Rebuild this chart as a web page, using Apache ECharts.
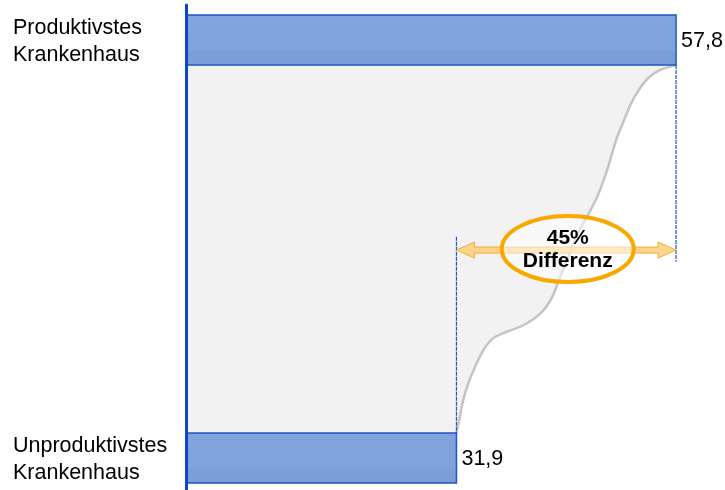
<!DOCTYPE html>
<html>
<head>
<meta charset="utf-8">
<script src="https://cdn.jsdelivr.net/npm/echarts@6/dist/echarts.min.js"></script>
<style>html,body{margin:0;padding:0;background:#fff;}#c{width:725px;height:490px;}</style>
</head>
<body>
<div id="c"></div>
<script>
// ---- data ----
const categories = ['Produktivstes\nKrankenhaus', 'Unproduktivstes\nKrankenhaus'];
const barValues = [57.8, 31.9];
const valueLabels = ['57,8', '31,9'];
// rank (0 = most productive, 100 = least productive) where each bar touches the distribution
const barRanks = [0, 100];
// distribution curve (value, rank)
const curveValues = [57.8, 55.9, 54.5, 53.4, 52.4, 51.6, 50.8, 50.2, 49.6, 48.6, 47.4, 46.1, 45.2, 44.2, 43.2, 41.9, 39.9, 37.8, 36.2, 35.1, 34.1, 33.3, 32.7, 32.3, 31.9];
const curveRanks  = [0, 1.4, 3.6, 6.8, 10.9, 15.4, 19.9, 24.5, 29.0, 35.3, 40.8, 46.2, 51.6, 57.1, 63.0, 67.3, 70.6, 72.5, 74.3, 77.4, 82.0, 86.5, 91.0, 95.6, 100];
const diffText = '45%\nDifferenz';

// ---- layout constants ----
const BAR_SPAN = 13.6;      // bar thickness in rank units
const ARROW_RANK = 50.3;
const FONT = 'Liberation Sans, Arial, sans-serif';

const chart = echarts.init(document.getElementById('c'), null, {renderer: 'canvas'});
const curveData = curveValues.map((v, i) => [v, curveRanks[i]]);

// smooth path (Catmull-Rom -> cubic Bezier) through pixel points
function smoothPath(pts) {
  let d = 'M' + pts[0][0] + ' ' + pts[0][1];
  for (let i = 0; i < pts.length - 1; i++) {
    const p0 = pts[Math.max(0, i - 1)], p1 = pts[i], p2 = pts[i + 1], p3 = pts[Math.min(pts.length - 1, i + 2)];
    const c1 = [p1[0] + (p2[0] - p0[0]) / 6, p1[1] + (p2[1] - p0[1]) / 6];
    const c2 = [p2[0] - (p3[0] - p1[0]) / 6, p2[1] - (p3[1] - p1[1]) / 6];
    d += ' C' + c1[0] + ' ' + c1[1] + ' ' + c2[0] + ' ' + c2[1] + ' ' + p2[0] + ' ' + p2[1];
  }
  return d;
}

const option = {
  animation: false,
  backgroundColor: '#ffffff',
  grid: {left: 186, right: 30.3, top: 5, bottom: 0, containLabel: false},
  xAxis: {type: 'value', min: 0, max: 60, show: false},
  yAxis: {
    type: 'value', min: -16.3, max: 115.5, inverse: true, z: 10,
    axisLine: {show: true, lineStyle: {color: '#0a48c8', width: 3}},
    axisTick: {show: false}, axisLabel: {show: false}, splitLine: {show: false}
  },
  series: [
    { // gray area between axis and curve, and the curve itself
      type: 'custom', z: 1, silent: true,
      data: [[0, 0]],
      renderItem: function (params, api) {
        const pts = curveData.map(d => api.coord(d));
        const curve = smoothPath(pts);
        const a0 = api.coord([0, curveRanks[0]]);
        const a1 = api.coord([0, curveRanks[curveRanks.length - 1]]);
        const fillPath = curve + ' L' + a1[0] + ' ' + a1[1] + ' L' + a0[0] + ' ' + a0[1] + ' Z';
        return {type: 'group', children: [
          {type: 'path', shape: {pathData: fillPath}, style: {fill: '#f2f2f2', stroke: null}},
          {type: 'path', shape: {pathData: curve}, style: {fill: null, stroke: '#c4c4c4', lineWidth: 2.5}}
        ]};
      }
    },
    { // bars
      type: 'custom', z: 3, silent: true,
      data: barValues.map((v, i) => [v, barRanks[i], i]),
      renderItem: function (params, api) {
        const v = api.value(0), r = api.value(1), i = api.value(2);
        const r2 = r === 0 ? r - BAR_SPAN : r + BAR_SPAN;
        const a = api.coord([0, r]), b = api.coord([v, r2]);
        const y0 = Math.min(a[1], b[1]), h = Math.abs(a[1] - b[1]);
        const midY = (a[1] + b[1]) / 2;
        return {type: 'group', children: [
          {type: 'rect', shape: {x: a[0], y: y0, width: b[0] - a[0], height: h},
           style: {fill: new echarts.graphic.LinearGradient(0, 0, 0, 1, [
             {offset: 0, color: '#81a3de'}, {offset: 0.7, color: '#7fa1dc'},
             {offset: 0.72, color: '#7b9dd8'}, {offset: 1, color: '#7a9cd8'}]),
             stroke: '#1f55c4', lineWidth: 1.5}},
          {type: 'text', x: b[0] + 5, y: midY + 1.5,
           style: {text: valueLabels[i], font: '21.5px ' + FONT, fill: '#000', verticalAlign: 'middle', align: 'left'}},
          {type: 'text', x: 13, y: midY + 2,
           style: {text: categories[i], font: '21.5px ' + FONT, fill: '#000', verticalAlign: 'middle', align: 'left', lineHeight: 27}}
        ]};
      }
    },
    { // dashed guide lines
      type: 'custom', z: 3, silent: true,
      data: [[barValues[0], 0, 53.5], [barValues[1], 46.7, 100]],
      renderItem: function (params, api) {
        const a = api.coord([api.value(0), api.value(1)]);
        const b = api.coord([api.value(0), api.value(2)]);
        return {type: 'line', shape: {x1: a[0], y1: a[1], x2: b[0], y2: b[1]},
          style: {stroke: '#1f55c4', lineWidth: 1.2, lineDash: [4, 1]}};
      }
    },
    { // double arrow, ellipse and text
      type: 'custom', z: 4, silent: true,
      data: [[barValues[1], barValues[0], ARROW_RANK]],
      renderItem: function (params, api) {
        const a = api.coord([api.value(0), api.value(2)]);
        const b = api.coord([api.value(1), api.value(2)]);
        const y = a[1], hb = 3, hh = 8, hl = 18;
        const pts = [[a[0], y], [a[0] + hl, y - hh], [a[0] + hl, y - hb], [b[0] - hl, y - hb],
          [b[0] - hl, y - hh], [b[0], y], [b[0] - hl, y + hh], [b[0] - hl, y + hb],
          [a[0] + hl, y + hb], [a[0] + hl, y + hh]];
        const cx = (a[0] + b[0]) / 2 + 1.5;
        return {type: 'group', children: [
          {type: 'polygon', shape: {points: pts}, style: {fill: 'rgba(252,200,110,0.75)', stroke: '#f7ad2a', lineWidth: 1}},
          {type: 'ellipse', shape: {cx: cx, cy: y - 1, rx: 66, ry: 33},
           style: {fill: 'rgba(255,255,255,0.5)', stroke: '#f9a800', lineWidth: 4}},
          {type: 'text', x: cx, y: y, style: {text: diffText, font: 'bold 21px ' + FONT, fill: '#000',
            align: 'center', verticalAlign: 'middle', lineHeight: 23}}
        ]};
      }
    }
  ]
};
chart.setOption(option);
</script>
</body>
</html>
